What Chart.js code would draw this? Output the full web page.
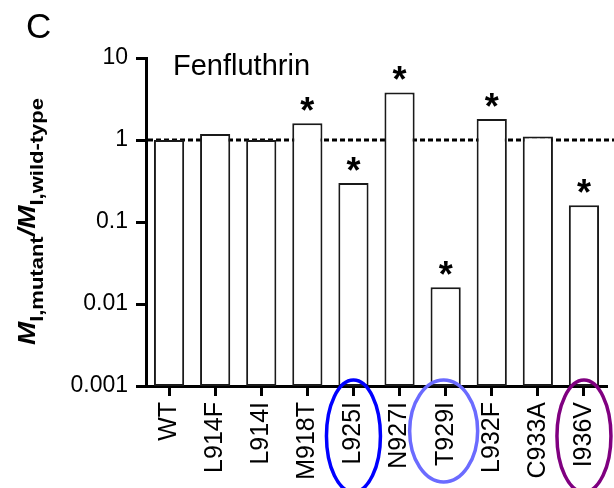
<!DOCTYPE html>
<html>
<head>
<meta charset="utf-8">
<script src="https://cdn.jsdelivr.net/npm/chart.js@4"></script>
<style>
  html, body { margin: 0; padding: 0; overflow: hidden; background: #fff; }
  #wrap { width: 614px; height: 488px; overflow: hidden; position: relative; }
</style>
</head>
<body>
<div id="wrap"><canvas id="c" width="620" height="488"></canvas></div>
<script>
// ---- data ----
const categories = ['WT', 'L914F', 'L914I', 'M918T', 'L925I', 'N927I', 'T929I', 'L932F', 'C933A', 'I936V'];
const ratioValues = [1, 1.18, 1, 1.6, 0.3, 3.8, 0.016, 1.8, 1.1, 0.16];
const significant = [false, false, false, true, true, true, true, true, false, true];
const yTickValues = [0.001, 0.01, 0.1, 1, 10];
const yTickLabels = ['0.001', '0.01', '0.1', '1', '10'];
const circledCategories = ['L925I', 'T929I', 'I936V'];
const circleColors = ['#0000ff', '#6b6bff', '#800080'];
const panelLetter = 'C';
const chartTitle = 'Fenfluthrin';
const referenceLine = 1;

const FONT = '"Liberation Sans", Arial, Helvetica, sans-serif';

const decorPlugin = {
  id: 'decor',
  beforeDatasetsDraw(chart) {
    const ctx = chart.ctx, y = chart.scales.y, a = chart.chartArea;
    const py = y.getPixelForValue(referenceLine);
    ctx.save();
    ctx.strokeStyle = '#000';
    ctx.lineWidth = 3.2;
    ctx.setLineDash([5, 3]);
    ctx.beginPath();
    ctx.moveTo(a.left + 2, py);
    ctx.lineTo(a.right + 10, py);
    ctx.stroke();
    ctx.restore();
  },
  afterDatasetsDraw(chart) {
    const ctx = chart.ctx;
    const meta = chart.getDatasetMeta(0);
    ctx.save();
    ctx.fillStyle = '#000';
    ctx.font = 'bold 36px ' + FONT;
    ctx.textAlign = 'center';
    ctx.textBaseline = 'alphabetic';
    meta.data.forEach((bar, i) => {
      if (significant[i]) {
        ctx.fillText('*', bar.x, bar.y);
      }
    });
    ctx.restore();
  },
  afterDraw(chart) {
    const ctx = chart.ctx, x = chart.scales.x, a = chart.chartArea;
    ctx.save();
    // panel letter
    ctx.fillStyle = '#000';
    ctx.textAlign = 'left';
    ctx.textBaseline = 'alphabetic';
    ctx.font = '35px ' + FONT;
    ctx.fillText(panelLetter, 26, 38);
    // title
    ctx.font = '29px ' + FONT;
    ctx.fillText(chartTitle, 173, 75);
    // circles
    circledCategories.forEach((cat, k) => {
      const i = categories.indexOf(cat);
      const cx = x.getPixelForValue(i);
      const isWide = cat === 'T929I';
      ctx.beginPath();
      ctx.strokeStyle = circleColors[k];
      ctx.lineWidth = 3.5;
      if (isWide) ctx.ellipse(cx - 2, a.bottom + 45, 34, 51, 0, 0, Math.PI * 2);
      else ctx.ellipse(cx, a.bottom + 50, 27, 56, 0, 0, Math.PI * 2);
      ctx.stroke();
    });
    // y-axis title with subscripts
    const parts = [
      { t: 'M', f: 'italic bold 24px ' + FONT, dy: 0 },
      { t: 'I,mutant', f: 'bold 19px ' + FONT, dy: 8 },
      { t: '/', f: 'italic bold 24px ' + FONT, dy: 0 },
      { t: 'M', f: 'italic bold 24px ' + FONT, dy: 0 },
      { t: 'I,wild-type', f: 'bold 19px ' + FONT, dy: 8 }
    ];
    let total = 0;
    parts.forEach(p => { ctx.font = p.f; p.w = ctx.measureText(p.t).width; total += p.w; });
    const targetLen = 247;
    const s = targetLen / total;
    ctx.translate(35, 345);
    ctx.rotate(-Math.PI / 2);
    ctx.scale(s, 1);
    let pos = 0;
    parts.forEach(p => {
      ctx.font = p.f;
      ctx.fillText(p.t, pos, p.dy);
      pos += p.w;
    });
    ctx.restore();
  }
};

new Chart(document.getElementById('c'), {
  type: 'bar',
  data: {
    labels: categories,
    datasets: [{
      data: ratioValues,
      backgroundColor: '#ffffff',
      borderColor: '#1a1a1a',
      borderWidth: 2,
      borderSkipped: false,
      categoryPercentage: 1,
      barPercentage: 0.655
    }]
  },
  plugins: [decorPlugin],
  options: {
    responsive: false,
    animation: false,
    layout: { padding: { top: 58, right: 1, left: 0, bottom: 0 } },
    plugins: { legend: { display: false }, tooltip: { enabled: false }, title: { display: false } },
    scales: {
      x: {
        offset: true,
        grid: { display: true, drawOnChartArea: false, offset: false, drawTicks: true, tickLength: 10, tickWidth: 3, tickColor: '#000', color: '#000' },
        border: { display: true, color: '#000', width: 3 },
        ticks: {
          color: '#000',
          font: { family: FONT, size: 25 },
          minRotation: 90, maxRotation: 90,
          padding: 6,
          autoSkip: false
        },
        afterFit(scale) { scale.height = 102; }
      },
      y: {
        type: 'logarithmic',
        min: 0.001,
        max: 10,
        grid: { display: true, drawOnChartArea: false, drawTicks: true, tickLength: 10, tickWidth: 3, tickColor: '#000', color: '#000' },
        border: { display: true, color: '#000', width: 3 },
        afterBuildTicks(scale) { scale.ticks = yTickValues.map(v => ({ value: v, major: true })); },
        ticks: {
          color: '#000',
          font: { family: FONT, size: 23 },
          padding: 8,
          autoSkip: false,
          callback(value) { const i = yTickValues.indexOf(value); return i >= 0 ? yTickLabels[i] : ''; }
        },
        afterFit(scale) { scale.width = 146; }
      }
    }
  }
});
</script>
</body>
</html>
